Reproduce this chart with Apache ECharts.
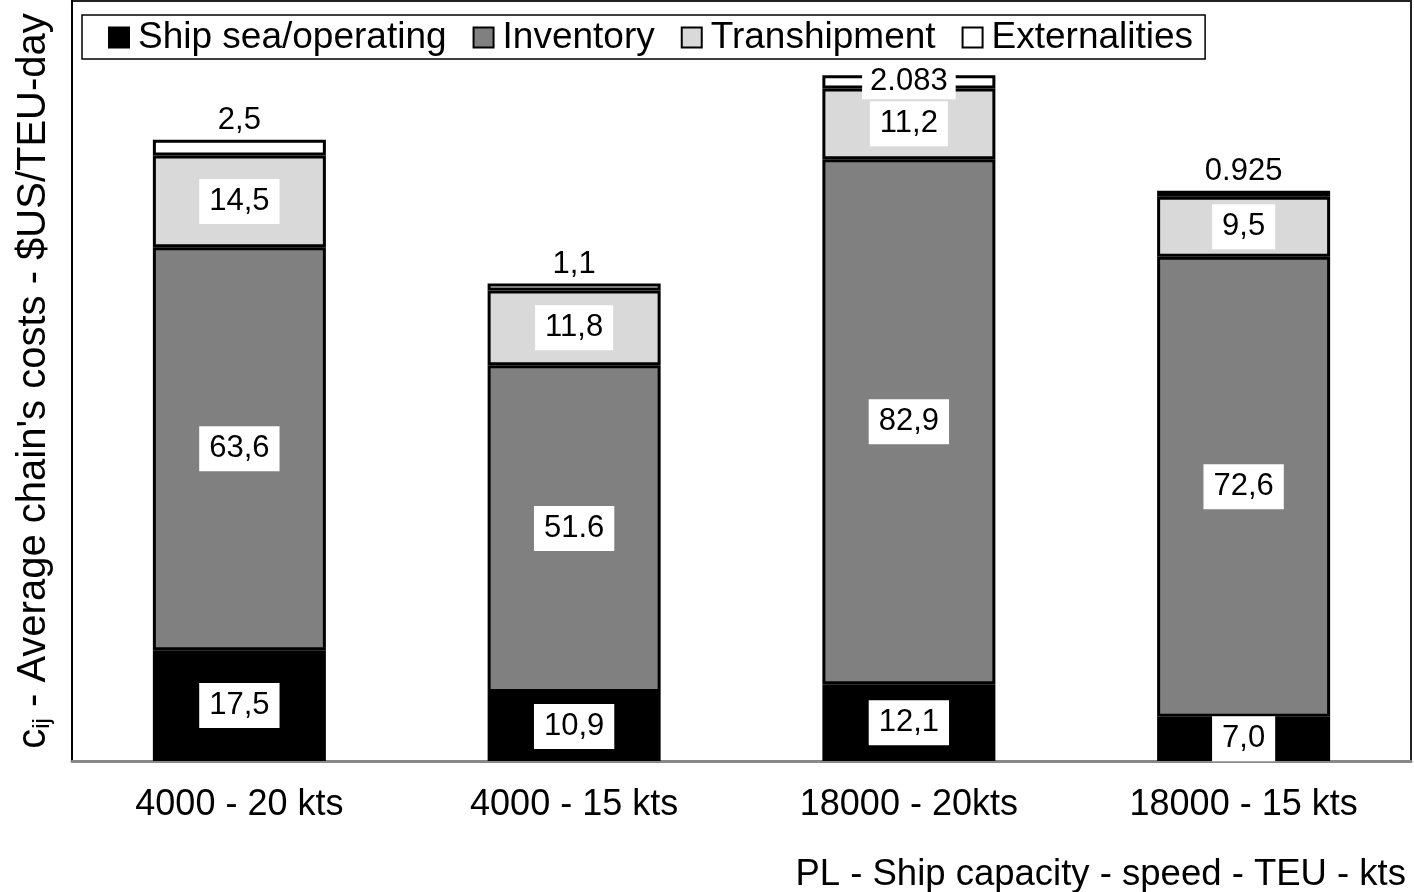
<!DOCTYPE html>
<html><head><meta charset="utf-8">
<script src="https://cdn.jsdelivr.net/npm/echarts@6/dist/echarts.min.js"></script>
<style>html,body{margin:0;padding:0;background:#fff}#c{width:1414px;height:892px}</style>
</head><body><div id="c"></div>
<script>
const categories = ['4000 - 20 kts', '4000 - 15 kts', '18000 - 20kts', '18000 - 15 kts'];
const shipValues = [17.5, 10.9, 12.1, 7.0];
const inventoryValues = [63.6, 51.6, 82.9, 72.6];
const transhipmentValues = [14.5, 11.8, 11.2, 9.5];
const externalityValues = [2.5, 1.1, 2.083, 0.925];
const shipLabels = ['17,5', '10,9', '12,1', '7,0'];
const inventoryLabels = ['63,6', '51.6', '82,9', '72,6'];
const transhipmentLabels = ['14,5', '11,8', '11,2', '9,5'];
const externalityLabels = ['2,5', '1,1', '2.083', '0.925'];
const seriesNames = ['Ship sea/operating', 'Inventory', 'Transhipment', 'Externalities'];

const FONT = 'Liberation Sans, Arial, sans-serif';
const boxLabel = (labels) => ({
  show: true, position: 'inside', color: '#000', fontSize: 31, fontFamily: FONT,
  backgroundColor: '#fff', padding: [8, 10, 6, 10],
  formatter: p => labels[p.dataIndex]
});
const mk = (name, values, color, labels) => ({
  name, type: 'bar', stack: 'total', barWidth: 173,
  itemStyle: { color, borderColor: '#000', borderWidth: 3 },
  label: boxLabel(labels),
  data: values.slice()
});

const extData = externalityValues.map((v, i) => {
  if (i === 2) return { value: v, label: { position: 'inside', backgroundColor: '#fff', padding: [3, 8, 1, 8] } };
  return { value: v, label: { position: 'top', distance: 4, backgroundColor: 'transparent', padding: 0 } };
});

const chart = echarts.init(document.getElementById('c'), null, { renderer: 'canvas' });
chart.setOption({
  animation: false,
  backgroundColor: '#fff',
  grid: { left: 72, right: 3, top: 1, bottom: 131, show: true, borderColor: '#222', borderWidth: 2, backgroundColor: 'transparent' },
  legend: {
    left: 82, top: 15, orient: 'horizontal',
    data: seriesNames, icon: 'rect', itemWidth: 20, itemHeight: 20, itemGap: 26,
    borderColor: '#000', borderWidth: 1.5, padding: [4, 12, 3, 26],
    textStyle: { fontSize: 37, fontFamily: FONT, color: '#000', padding: [3, 0, 0, 4] },
    selectedMode: false
  },
  title: {
    text: 'PL - Ship capacity - speed - TEU - kts', right: 3, top: 851,
    textStyle: { fontSize: 36.5, fontWeight: 'normal', fontFamily: FONT, color: '#000' }
  },
  xAxis: {
    type: 'category', data: categories,
    axisLine: { lineStyle: { color: '#888', width: 3 } },
    axisTick: { show: false },
    axisLabel: { fontSize: 36, fontFamily: FONT, color: '#000', margin: 26 }
  },
  yAxis: {
    type: 'value', min: 0, max: 120,
    axisLabel: { show: false }, splitLine: { show: false }, axisTick: { show: false },
    axisLine: { show: true, lineStyle: { color: '#000', width: 2 } },
    name: '{c|c}{s|ij}{t| - Average chain\'s costs - $US/TEU-day}',
    nameLocation: 'middle', nameRotate: 90, nameGap: 18,
    nameTextStyle: {
      fontFamily: FONT, color: '#000',
      rich: {
        c: { fontSize: 40, fontFamily: FONT, color: '#000' },
        s: { fontSize: 24, fontFamily: FONT, color: '#000', verticalAlign: 'bottom', padding: [10, 0, 0, 0] },
        t: { fontSize: 40, fontFamily: FONT, color: '#000' }
      }
    }
  },
  series: [
    mk(seriesNames[0], shipValues, '#000000', shipLabels),
    mk(seriesNames[1], inventoryValues, '#808080', inventoryLabels),
    mk(seriesNames[2], transhipmentValues, '#d9d9d9', transhipmentLabels),
    Object.assign(mk(seriesNames[3], externalityValues, '#ffffff', externalityLabels), { data: extData })
  ]
});
</script></body></html>
